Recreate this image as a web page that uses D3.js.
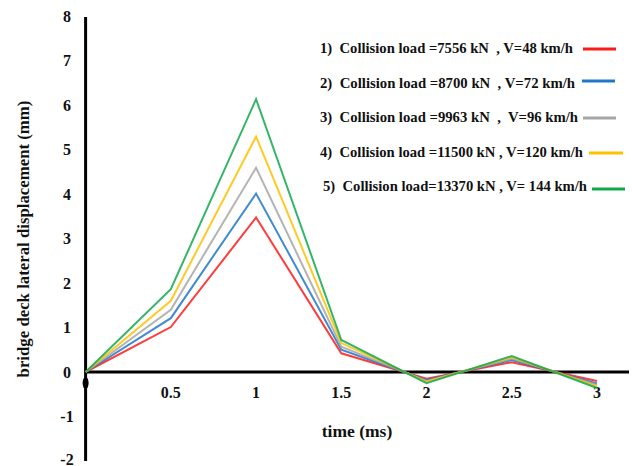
<!DOCTYPE html>
<html>
<head>
<meta charset="utf-8">
<script src="https://cdn.jsdelivr.net/npm/d3@7"></script>
<style>
  html, body { margin: 0; padding: 0; background: #fff; }
  svg { display: block; }
  text { font-family: "Liberation Serif", "Times New Roman", serif; font-weight: bold; fill: #111; }
</style>
</head>
<body>
<svg id="chart" width="632" height="466"></svg>
<script>
// Time steps (ms)
const times = [0, 0.5, 1, 1.5, 2, 2.5, 3];

// Lateral displacement of the bridge deck (mm) for each collision case
const load7556 = [0, 1.01, 3.47, 0.42, -0.15, 0.22, -0.20];
const load8700 = [0, 1.21, 4.01, 0.50, -0.18, 0.27, -0.26];
const load9963 = [0, 1.40, 4.59, 0.57, -0.20, 0.30, -0.29];
const load11500 = [0, 1.60, 5.29, 0.65, -0.22, 0.33, -0.32];
const load13370 = [0, 1.86, 6.13, 0.72, -0.25, 0.36, -0.36];

const seriesLabels = [
  "1)  Collision load =7556 kN  , V=48 km/h",
  "2)  Collision load =8700 kN  , V=72 km/h",
  "3)  Collision load =9963 kN  ,  V=96 km/h",
  "4)  Collision load =11500 kN , V=120 km/h",
  "5)  Collision load=13370 kN , V= 144 km/h"
];
const seriesColors = ["#ff1a1a", "#1f77c8", "#a6a6a6", "#ffc000", "#10a84e"];

const yTicks = [-2, -1, 0, 1, 2, 3, 4, 5, 6, 7, 8];
const xTicks = [0.5, 1, 1.5, 2, 2.5, 3];

const seriesValues = [load7556, load8700, load9963, load11500, load13370];

const svg = d3.select("#chart");

const x = d3.scaleLinear().domain([0, 3]).range([85.6, 597]);
const y = d3.scaleLinear().domain([-2, 8]).range([461, 16]);

// Axis lines
svg.append("line")
  .attr("x1", x(0)).attr("x2", x(0))
  .attr("y1", y(8) + 1).attr("y2", y(-2))
  .attr("stroke", "#000").attr("stroke-width", 3);
svg.append("line")
  .attr("x1", x(0)).attr("x2", 629)
  .attr("y1", y(0)).attr("y2", y(0))
  .attr("stroke", "#000").attr("stroke-width", 3);

// Origin marker on the vertical axis
svg.append("ellipse")
  .attr("cx", x(0)).attr("cy", y(0) + 11)
  .attr("rx", 3).attr("ry", 6)
  .attr("fill", "#000");

// Tick labels
svg.append("g").selectAll("text")
  .data(yTicks)
  .join("text")
  .attr("x", 67)
  .attr("y", d => d === -2 ? y(d) - 2 : y(d))
  .attr("text-anchor", "middle")
  .attr("dominant-baseline", "central")
  .attr("font-size", 16)
  .text(d => d);

svg.append("g").selectAll("text")
  .data(xTicks)
  .join("text")
  .attr("x", d => x(d))
  .attr("y", 392)
  .attr("text-anchor", "middle")
  .attr("dominant-baseline", "central")
  .attr("font-size", 16)
  .text(d => d);

// Axis titles
svg.append("text")
  .attr("x", 357).attr("y", 431)
  .attr("text-anchor", "middle")
  .attr("dominant-baseline", "central")
  .attr("font-size", 17.5)
  .text("time (ms)");

svg.append("text")
  .attr("transform", "translate(23,239) rotate(-90)")
  .attr("text-anchor", "middle")
  .attr("dominant-baseline", "central")
  .attr("font-size", 16.8)
  .text("bridge deck lateral displacement (mm)");

// Series lines
const line = d3.line()
  .x((d, i) => x(times[i]))
  .y(d => y(d));

svg.append("g").selectAll("path")
  .data(seriesValues)
  .join("path")
  .attr("d", d => line(d))
  .attr("fill", "none")
  .attr("stroke", (d, i) => seriesColors[i])
  .attr("stroke-width", 2)
  .attr("stroke-opacity", 0.85)
  .attr("stroke-linejoin", "miter");

// Legend
const legendRows = [
  { tx: 320, ty: 48, w: 253, lx1: 583, lx2: 616, ly: 49 },
  { tx: 320, ty: 83, w: 255, lx1: 582, lx2: 615, ly: 81 },
  { tx: 320, ty: 117, w: 258, lx1: 583, lx2: 616, ly: 118 },
  { tx: 320, ty: 152, w: 263, lx1: 589, lx2: 623, ly: 153 },
  { tx: 323, ty: 186, w: 264, lx1: 592, lx2: 625, ly: 189 }
];

const legend = svg.append("g");
legendRows.forEach((r, i) => {
  legend.append("text")
    .attr("x", r.tx).attr("y", r.ty)
    .attr("dominant-baseline", "central")
    .attr("font-size", 15)
    .attr("textLength", r.w)
    .attr("lengthAdjust", "spacingAndGlyphs")
    .style("white-space", "pre")
    .text(seriesLabels[i]);
  legend.append("line")
    .attr("x1", r.lx1).attr("x2", r.lx2)
    .attr("y1", r.ly).attr("y2", r.ly)
    .attr("stroke", seriesColors[i])
    .attr("stroke-width", 3);
});
</script>
</body>
</html>
